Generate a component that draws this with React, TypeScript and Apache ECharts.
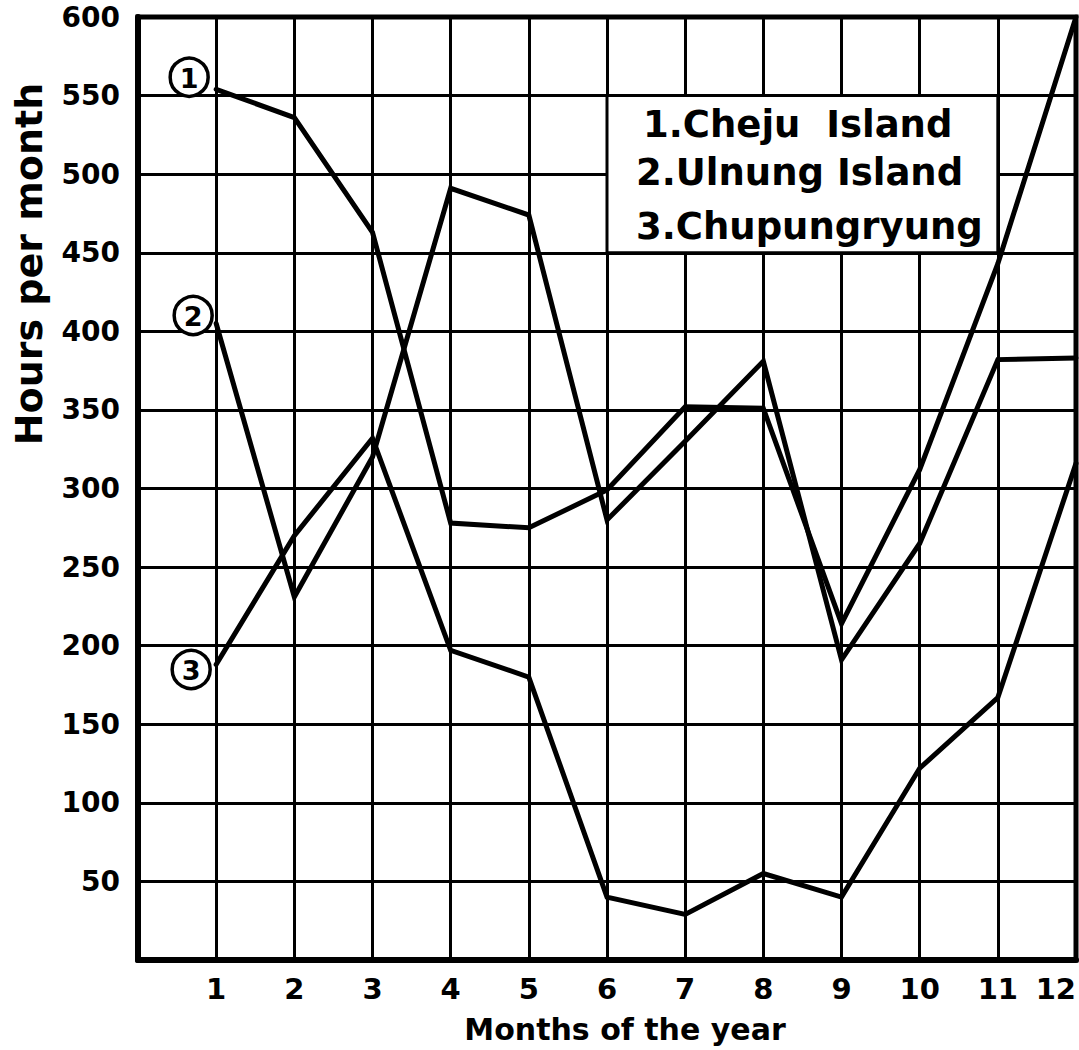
import React, { useEffect, useRef } from "react";
import * as echarts from "echarts";

// Months of the year (x values)
const months = [1, 2, 3, 4, 5, 6, 7, 8, 9, 10, 11, 12];
// Hours per month
const chejuIsland = [554, 536, 463, 278, 275, 299, 352, 351, 214, 312, 443, 600];
const ulnungIsland = [405, 231, 320, 491, 474, 280, 330, 381, 191, 265, 382, 383];
const chupungryung = [188, 270, 332, 197, 180, 40, 29, 55, 40, 122, 167, 316];

const seriesNames = ["Cheju Island", "Ulnung Island", "Chupungryung"];
const legendLines = ["1.Cheju  Island", "2.Ulnung Island", "3.Chupungryung"];
const circleMarks = ["1", "2", "3"];

const xTitle = "Months of the year";
const yTitle = "Hours per month";

const FONT = "'DejaVu Sans', 'Liberation Sans', sans-serif";

export default function App() {
  const ref = useRef<HTMLDivElement>(null);

  useEffect(() => {
    document.body.style.margin = "0";
    const chart = echarts.init(ref.current!, null, { renderer: "svg" });
    const allValues = [chejuIsland, ulnungIsland, chupungryung];

    const series = allValues.map((vals, idx) => ({
      name: seriesNames[idx],
      type: "line",
      data: months.map((m, i) => [m, vals[i]]),
      showSymbol: false,
      symbol: "none",
      silent: true,
      z: 3,
      lineStyle: { color: "#000", width: 5, join: "miter", cap: "round" },
    }));

    chart.setOption({
      animation: false,
      backgroundColor: "#fff",
      grid: {
        left: 138,
        right: 2,
        top: 17,
        bottom: 90,
        show: true,
        borderColor: "#000",
        borderWidth: 5,
        backgroundColor: "transparent",
      },
      xAxis: {
        type: "value",
        min: 0,
        max: 12,
        interval: 1,
        axisLine: { show: true, lineStyle: { color: "#000", width: 6 } },
        axisTick: { show: false },
        axisLabel: {
          formatter: (v: number) => (v === 0 ? "" : String(v)),
          color: "#000",
          fontFamily: FONT,
          fontWeight: "bold",
          fontSize: 29,
          margin: 14,
          alignMaxLabel: "right",
        },
        splitLine: { show: true, lineStyle: { color: "#000", width: 3 } },
      },
      yAxis: {
        type: "value",
        min: 0,
        max: 600,
        interval: 50,
        axisLine: { show: true, lineStyle: { color: "#000", width: 6 } },
        axisTick: { show: false },
        axisLabel: {
          formatter: (v: number) => (v === 0 ? "" : String(v)),
          color: "#000",
          fontFamily: FONT,
          fontWeight: "bold",
          fontSize: 28,
          margin: 18,
        },
        splitLine: { show: true, lineStyle: { color: "#000", width: 3 } },
      },
      series,
    });

    // Annotations positioned from the chart's own coordinate system
    const px = (x: number, y: number) =>
      chart.convertToPixel({ xAxisIndex: 0, yAxisIndex: 0 }, [x, y]) as number[];

    const boxTL = px(6, 550);
    const boxBR = px(11, 450);
    const bx = boxTL[0];
    const by = boxTL[1];
    const bw = boxBR[0] - boxTL[0];
    const bh = boxBR[1] - boxTL[1];

    const circleOffsets = [
      [-27, -12],
      [-23, -8],
      [-25, 5],
    ];

    const graphics: any[] = [
      {
        type: "rect",
        z: 10,
        shape: { x: bx, y: by, width: bw, height: bh },
        style: { fill: "#fff", stroke: "#000", lineWidth: 3 },
      },
      ...legendLines.map((t, i) => ({
        type: "text",
        z: 11,
        x: bx + (i === 0 ? 36 : 29),
        y: by + [29, 77, 131][i],
        style: {
          text: t,
          fill: "#000",
          font: `bold 37px ${FONT}`,
          textAlign: "left",
          textVerticalAlign: "middle",
        },
      })),
      {
        type: "text",
        z: 11,
        x: 625,
        y: 1029,
        style: {
          text: xTitle,
          fill: "#000",
          font: `bold 30px ${FONT}`,
          textAlign: "center",
          textVerticalAlign: "middle",
        },
      },
      {
        type: "text",
        z: 11,
        x: 29,
        y: 264,
        rotation: Math.PI / 2,
        style: {
          text: yTitle,
          fill: "#000",
          font: `bold 38px ${FONT}`,
          textAlign: "center",
          textVerticalAlign: "middle",
        },
      },
    ];

    allValues.forEach((vals, i) => {
      const p = px(months[0], vals[0]);
      const cx = p[0] + circleOffsets[i][0];
      const cy = p[1] + circleOffsets[i][1];
      graphics.push({
        type: "circle",
        z: 11,
        shape: { cx, cy, r: 19 },
        style: { fill: "#fff", stroke: "#000", lineWidth: 3.5 },
      });
      graphics.push({
        type: "text",
        z: 12,
        x: cx,
        y: cy + 1,
        style: {
          text: circleMarks[i],
          fill: "#000",
          font: `bold 27px ${FONT}`,
          textAlign: "center",
          textVerticalAlign: "middle",
        },
      });
    });

    chart.setOption({ graphic: graphics });

    return () => {
      chart.dispose();
    };
  }, []);

  return <div ref={ref} style={{ width: 1079, height: 1050 }} />;
}
